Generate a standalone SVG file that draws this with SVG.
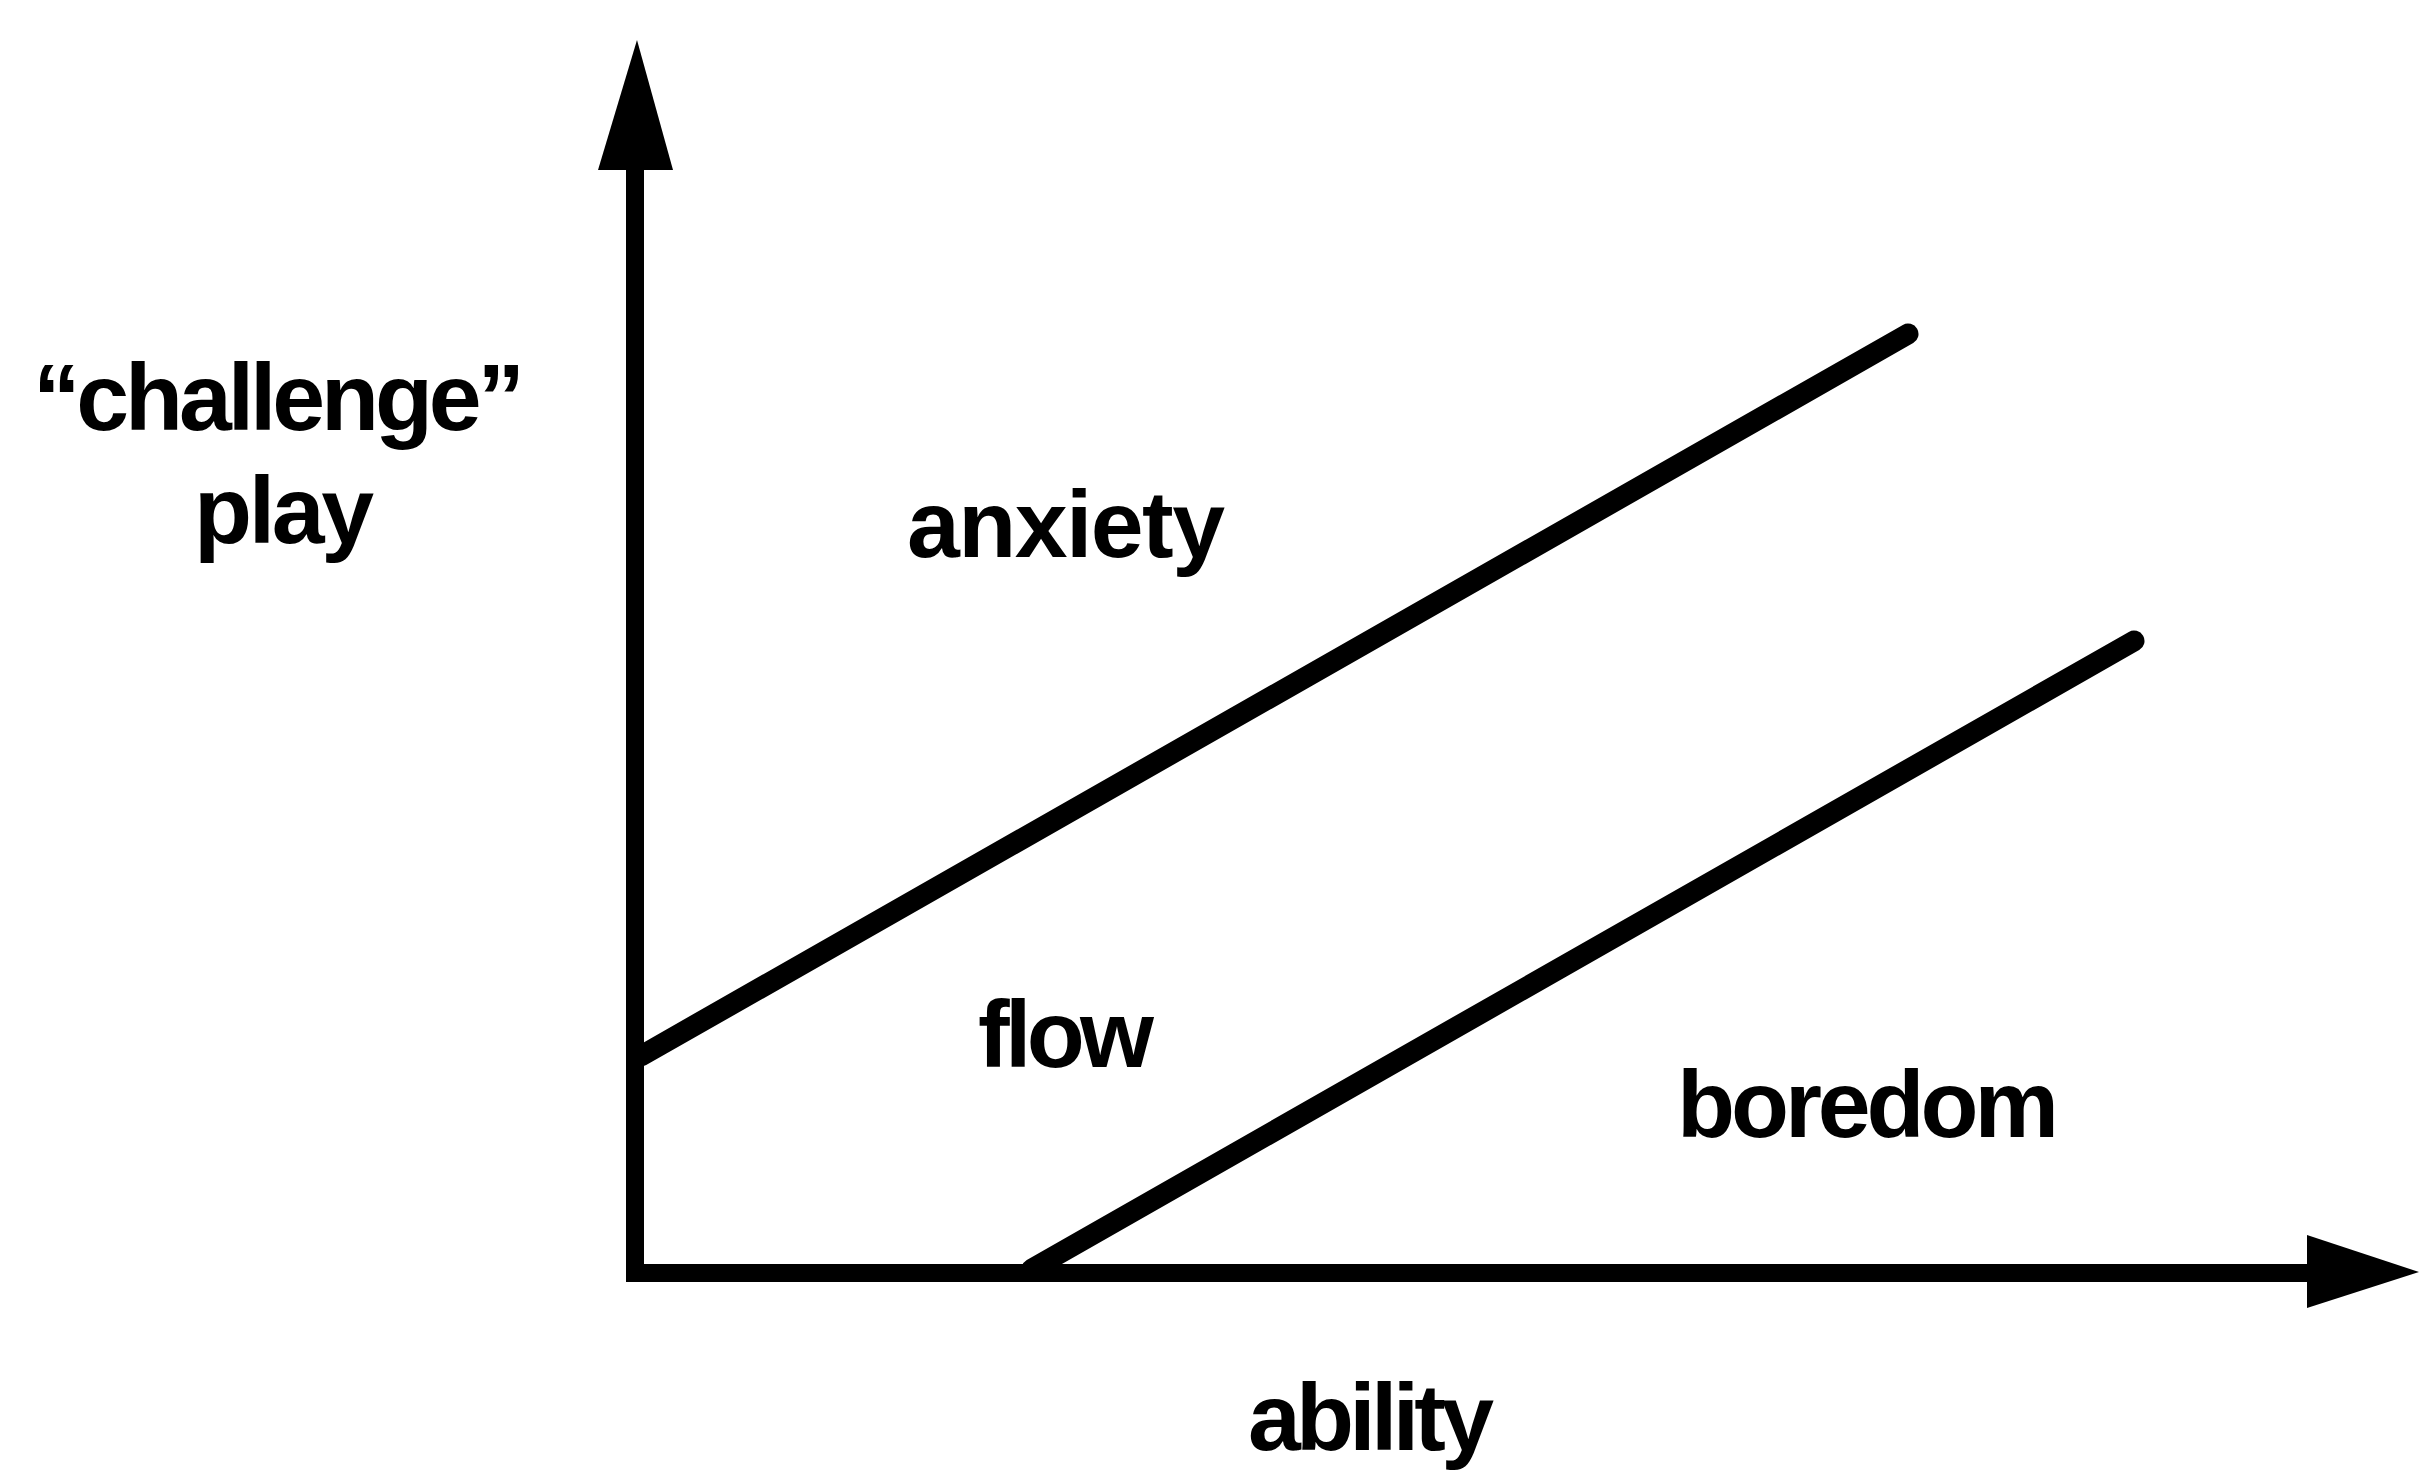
<svg xmlns="http://www.w3.org/2000/svg" width="2419" height="1471" viewBox="0 0 2419 1471">
<style>
.lbl{font-family:"Liberation Sans",Arial,sans-serif;font-weight:bold;font-size:95px;fill:#000}
.ax{stroke:#000;stroke-width:18;fill:none;stroke-linecap:butt}
.ln{stroke:#000;stroke-width:21;fill:none;stroke-linecap:round}
.hd{fill:#000}
</style>
<rect width="2419" height="1471" fill="#fff"/>
<g id="connectors">
<line class="ax" x1="635" y1="165" x2="635" y2="1282"/>
<line class="ax" x1="626" y1="1273" x2="2312" y2="1273"/>
<polygon class="hd" points="637,40 673,170 598,170"/>
<polygon class="hd" points="2419,1272 2307,1235 2307,1308"/>
<line class="ln" x1="641" y1="1056" x2="1908" y2="334"/>
<line class="ln" x1="1032" y1="1269" x2="2134" y2="641"/>
</g>
<g id="challenge"><text class="lbl" x="33" y="430" textLength="492" lengthAdjust="spacing">“challenge”</text></g>
<g id="play"><text class="lbl" x="194" y="543" textLength="180" lengthAdjust="spacing">play</text></g>
<g id="anxiety"><text class="lbl" x="907" y="557" textLength="318" lengthAdjust="spacing">anxiety</text></g>
<g id="flow"><text class="lbl" x="978" y="1067" textLength="176" lengthAdjust="spacing">flow</text></g>
<g id="boredom"><text class="lbl" x="1677" y="1137" textLength="382" lengthAdjust="spacing">boredom</text></g>
<g id="ability"><text class="lbl" x="1248" y="1450" textLength="246" lengthAdjust="spacing">ability</text></g>
</svg>
